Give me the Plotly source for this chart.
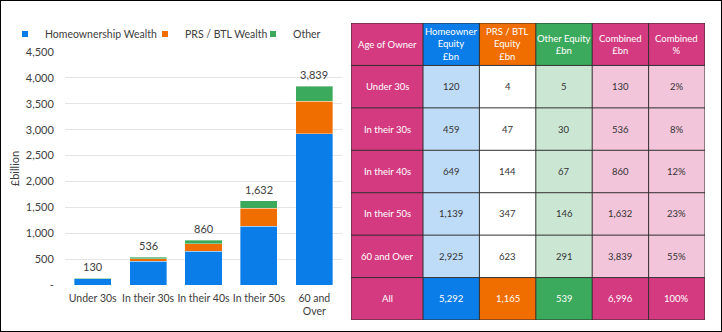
import plotly.graph_objects as go

# ---------------- data ----------------
ages = ["Under 30s", "In their 30s", "In their 40s", "In their 50s", "60 and Over"]
age_tick_labels = ["Under 30s", "In their 30s", "In their 40s", "In their 50s", "60 and<br>Over"]
homeowner = [120, 459, 649, 1139, 2925]
prs_btl = [4, 47, 144, 347, 623]
other = [5, 30, 67, 146, 291]
combined = [130, 536, 860, 1632, 3839]
combined_pct = ["2%", "8%", "12%", "23%", "55%"]
all_row = ["All", "5,292", "1,165", "539", "6,996", "100%"]
series_names = ["Homeownership Wealth", "PRS / BTL Wealth", "Other"]
y_tick_vals = [0, 500, 1000, 1500, 2000, 2500, 3000, 3500, 4000, 4500]
y_tick_text = ["-", "500", "1,000", "1,500", "2,000", "2,500", "3,000", "3,500", "4,000", "4,500"]
table_header = ["Age of Owner", "Homeowner<br>Equity<br>£bn", "PRS / BTL<br>Equity<br>£bn",
                "Other Equity<br>£bn", "Combined<br>£bn", "Combined<br>%"]

# ---------------- style ----------------
W, H = 722, 332
FONT = "Lato"
BLUE, ORANGE, GREEN = "#0B7DE8", "#F06D00", "#3BAA5C"
PINK = "#D43A80"
LBLUE, WHITE, LGREEN, LPINK = "#BEDCF7", "#FFFFFF", "#CBE7D3", "#F2C5DA"
TXT = "#404040"
palette = [PINK, BLUE, ORANGE, GREEN, LBLUE, WHITE, LGREEN, LPINK]
col_widths = [72, 56.4, 56.4, 56.4, 56.4, 56.4]
head_colors = [0, 1, 2, 3, 0, 0]
body_colors = [0, 4, 5, 6, 7, 7]
legend_widths = [95, 63, 30]


def fmt(v):
    return f"{v:,}"


fig = go.Figure()

# stacked bars
for name, vals, col, lw in zip(series_names, [homeowner, prs_btl, other], [BLUE, ORANGE, GREEN], legend_widths):
    fig.add_trace(go.Bar(x=ages, y=vals, name=name, marker=dict(color=col, line=dict(color="rgba(255,255,255,0.6)", width=0.6)),
                         showlegend=False, legendgroup=name, hoverinfo="x+y+name", xaxis="x", yaxis="y"))
    fig.add_trace(go.Scatter(x=[None], y=[None], mode="markers", name=name, legendgroup=name, legendwidth=lw,
                             marker=dict(symbol="square", size=6, color=col), xaxis="x", yaxis="y"))

# totals above bars
for a, c in zip(ages, combined):
    fig.add_annotation(x=a, y=c, xref="x", yref="y", text=fmt(c), showarrow=False,
                       yanchor="bottom", yshift=3, font=dict(family=FONT, size=11, color=TXT))

# ---------------- table as heatmap ----------------
rows = [table_header]
for i in range(len(ages)):
    rows.append([ages[i], fmt(homeowner[i]), fmt(prs_btl[i]), fmt(other[i]), fmt(combined[i]), combined_pct[i]])
rows.append(all_row)

zrows = [head_colors] + [body_colors for _ in ages] + [head_colors]
x_edges = [0]
for w in col_widths:
    x_edges.append(x_edges[-1] + w)
y_edges = list(range(len(rows) + 1))
n = len(palette)
cscale = []
for i, c in enumerate(palette):
    cscale.append([i / n, c])
    cscale.append([(i + 1) / n, c])

fig.add_trace(go.Heatmap(z=zrows, x=x_edges, y=y_edges, colorscale=cscale, zmin=-0.5, zmax=n - 0.5,
                         showscale=False, hoverinfo="skip", xaxis="x2", yaxis="y2"))

for r, row in enumerate(rows):
    for c, txt in enumerate(row):
        light_cell = zrows[r][c] >= 4
        fig.add_annotation(x=(x_edges[c] + x_edges[c + 1]) / 2, y=r + 0.5, xref="x2", yref="y2",
                           text=txt, showarrow=False,
                           font=dict(family=FONT, size=9.5, color="#333333" if light_cell else "white"))

# grid lines of table
for xe in x_edges:
    fig.add_shape(type="line", x0=xe, x1=xe, y0=y_edges[0], y1=y_edges[-1], xref="x2", yref="y2",
                  line=dict(color="#2f2f2f", width=1))
for ye in y_edges:
    fig.add_shape(type="line", x0=x_edges[0], x1=x_edges[-1], y0=ye, y1=ye, xref="x2", yref="y2",
                  line=dict(color="#2f2f2f", width=1))

# outer frame
fig.add_shape(type="rect", xref="paper", yref="paper", x0=0, x1=1, y0=0, y1=1,
              line=dict(color="black", width=2))

fig.update_layout(
    width=W, height=H,
    margin=dict(l=0, r=0, t=0, b=0),
    paper_bgcolor="white", plot_bgcolor="white",
    barmode="stack", bargap=0.33,
    font=dict(family=FONT, size=11, color=TXT),
    showlegend=True,
    legend=dict(orientation="h", x=5 / W, xanchor="left", y=1 - 34 / H, yanchor="middle",
                traceorder="normal", font=dict(family=FONT, size=10.5, color=TXT), bgcolor="rgba(0,0,0,0)",
                itemwidth=30, tracegroupgap=0),
    xaxis=dict(domain=[65 / W, 342 / W], type="category", tickvals=ages, ticktext=age_tick_labels,
               tickangle=0, showgrid=False, showline=False, zeroline=False, ticks="outside", ticklen=3,
               tickcolor="rgba(0,0,0,0)", tickfont=dict(size=10.5, color=TXT), automargin=False,
               anchor="y"),
    yaxis=dict(domain=[1 - 285 / H, 1 - 52 / H], range=[0, 4500], tickvals=y_tick_vals, ticktext=y_tick_text,
               showgrid=True, gridcolor="#E4E4E4", gridwidth=1, zeroline=False, showline=False,
               ticks="outside", ticklen=8, tickcolor="rgba(0,0,0,0)", tickfont=dict(size=11, color=TXT),
               title=dict(text="£billion", font=dict(size=11, color=TXT), standoff=3), automargin=False,
               anchor="x"),
    xaxis2=dict(domain=[351 / W, (351 + x_edges[-1]) / W], range=[x_edges[0], x_edges[-1]], visible=False,
                anchor="y2", fixedrange=True),
    yaxis2=dict(domain=[1 - 320 / H, 1 - 23 / H], range=[y_edges[-1], y_edges[0]], visible=False,
                anchor="x2", fixedrange=True),
)

fig.write_html("out.html")
